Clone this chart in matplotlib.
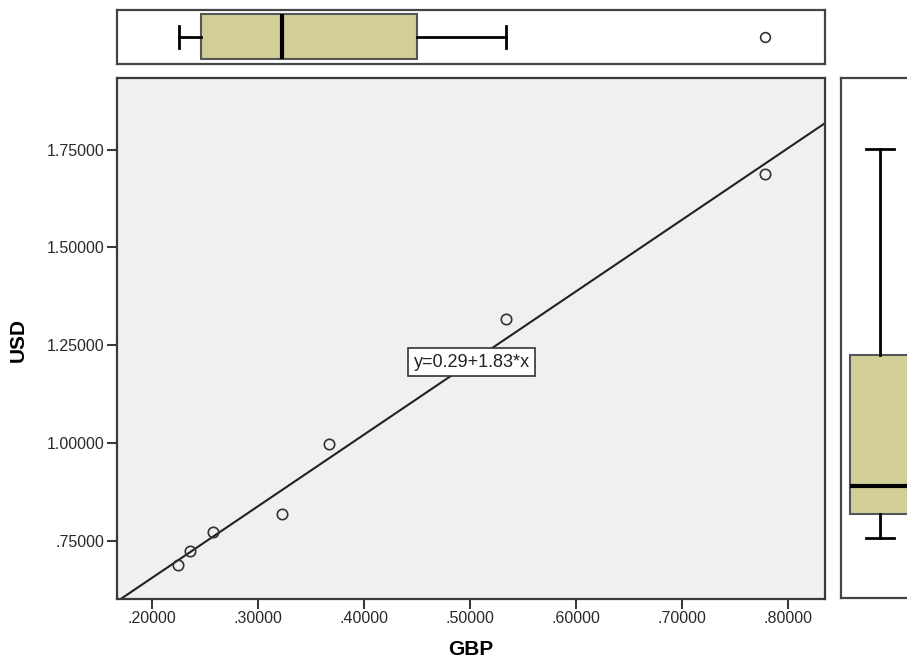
import numpy as np
import matplotlib
matplotlib.use("Agg")
import matplotlib.pyplot as plt

plt.rcParams['font.family'] = ['Liberation Sans', 'DejaVu Sans']

# scatter data
gbp = [0.2248, 0.2355, 0.2575, 0.3225, 0.3665, 0.5336, 0.7780]
usd = [0.6887, 0.7245, 0.7722, 0.8197, 0.9978, 1.3170, 1.6874]

# fit line as printed in the label
intercept, slope = 0.29, 1.83
fit_label = "y=0.29+1.83*x"
label_pos = (0.5015, 1.2067)

x_ticks = [0.2, 0.3, 0.4, 0.5, 0.6, 0.7, 0.8]
x_tick_labels = ['.20000', '.30000', '.40000', '.50000', '.60000', '.70000', '.80000']
y_ticks = [0.75, 1.0, 1.25, 1.5, 1.75]
y_tick_labels = ['.75000', '1.00000', '1.25000', '1.50000', '1.75000']
x_lim = (0.1665, 0.8343)
y_lim = (0.602, 1.933)

# marginal boxplot summaries (as drawn)
gbp_box = dict(whislo=0.2253, q1=0.2462, med=0.3229, q3=0.4497, whishi=0.5337, fliers=[0.778])
usd_box = dict(whislo=0.755, q1=0.816, med=0.888, q3=1.225, whishi=1.751, fliers=[])

W, H = 907, 663
fig = plt.figure(figsize=(W / 100, H / 100), dpi=100)


def px_axes(l, t, r, b):
    # axes placed by pixel box (left, top, right, bottom)
    return fig.add_axes([l / W, 1 - b / H, (r - l) / W, (b - t) / H])


frame_col = '#3a3a3a'
box_fill = '#D2CE97'

ax = px_axes(116.5, 78, 824.5, 599)
ax_top = px_axes(116.5, 10, 824.5, 64)
ax_right = px_axes(841, 78, 935, 598)

# main scatter
ax.set_facecolor('#F0F0F0')
ax.plot(gbp, usd, linestyle='none', marker='o', markersize=7.5,
        markerfacecolor='none', markeredgecolor='#333333', markeredgewidth=1.2, zorder=3)
xl = np.array(x_lim)
ax.plot(xl, intercept + slope * xl, color='#222222', lw=1.5, zorder=2)
ax.text(label_pos[0], label_pos[1], fit_label, ha='center', va='center', fontsize=13,
        color='#222222', zorder=4,
        bbox=dict(boxstyle='square,pad=0.3', fc='white', ec='#333333', lw=1.2))
ax.set_xlim(*x_lim)
ax.set_ylim(*y_lim)
ax.set_xticks(x_ticks)
ax.set_xticklabels(x_tick_labels)
ax.set_yticks(y_ticks)
ax.set_yticklabels(y_tick_labels)
ax.tick_params(direction='out', length=7, width=1.5, color=frame_col,
               labelsize=11.5, labelcolor='#2a2a2a', pad=1.5)
for s in ax.spines.values():
    s.set_color(frame_col)
    s.set_linewidth(1.6)
ax.set_xlabel('GBP', fontsize=15, fontweight='bold')
ax.set_ylabel('USD', fontsize=15, fontweight='bold')
ax.xaxis.set_label_coords(0.5, -0.078)
ax.yaxis.set_label_coords(-0.126, 0.497)

box_kw = dict(positions=[0], widths=[1], patch_artist=True, capwidths=[0.48],
              boxprops=dict(facecolor=box_fill, edgecolor='#555555', linewidth=1.5),
              medianprops=dict(color='black', linewidth=3),
              whiskerprops=dict(color='black', linewidth=2),
              capprops=dict(color='black', linewidth=2),
              flierprops=dict(marker='o', markersize=7, markerfacecolor='none',
                              markeredgecolor='#333333', markeredgewidth=1.2))

# top marginal box (GBP)
ax_top.bxp([gbp_box], orientation='horizontal', **box_kw)
ax_top.set_xlim(*x_lim)
ax_top.set_ylim(-0.604, 0.596)

# right marginal box (USD)
ax_right.bxp([usd_box], orientation='vertical', **box_kw)
ax_right.set_ylim(*y_lim)
ax_right.set_xlim(-0.65, 0.917)

for a in (ax_top, ax_right):
    a.set_facecolor('white')
    a.set_xticks([])
    a.set_yticks([])
    for s in a.spines.values():
        s.set_color('#444444')
        s.set_linewidth(1.6)

fig.savefig('out.png', dpi=100)
